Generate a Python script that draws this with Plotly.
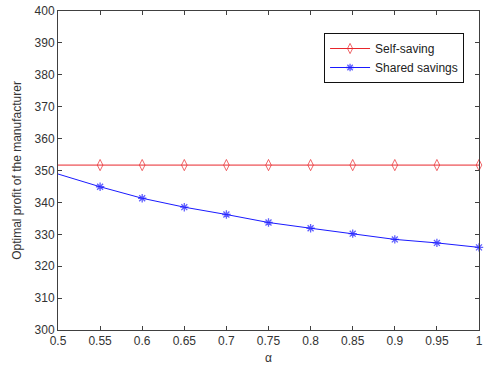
import plotly.graph_objects as go

alpha = [0.5, 0.55, 0.6, 0.65, 0.7, 0.75, 0.8, 0.85, 0.9, 0.95, 1.0]
self_saving = [351.7] * 11
shared_savings = [348.9, 344.9, 341.3, 338.5, 336.2, 333.7, 331.9, 330.2, 328.4, 327.3, 325.9]
x_ticks = [0.5, 0.55, 0.6, 0.65, 0.7, 0.75, 0.8, 0.85, 0.9, 0.95, 1.0]
x_labels = ["0.5", "0.55", "0.6", "0.65", "0.7", "0.75", "0.8", "0.85", "0.9", "0.95", "1"]
y_ticks = list(range(300, 401, 10))

msizes_red = [0] + [8] * 10
msizes_blue = [0] + [7] * 10

FONT = "Liberation Sans, Arial"

fig = go.Figure()
fig.add_trace(go.Scatter(
    x=alpha, y=self_saving, mode="lines+markers", name="Self-saving",
    line=dict(color="#e8262b", width=1),
    marker=dict(symbol="diamond-tall-open", size=msizes_red, color="#e8262b",
                line=dict(width=1, color="#e8262b")),
    cliponaxis=False,
))
fig.add_trace(go.Scatter(
    x=alpha, y=shared_savings, mode="lines+markers", name="Shared savings",
    line=dict(color="#1a1aff", width=1),
    marker=dict(symbol="asterisk-open", size=msizes_blue, color="#1a1aff",
                line=dict(width=1.3, color="#1a1aff")),
    cliponaxis=False,
))

axis_common = dict(
    showgrid=False, zeroline=False, showline=True, linecolor="#404040", linewidth=1,
    mirror="ticks", ticks="inside", ticklen=4, tickcolor="#404040",
    tickfont=dict(family=FONT, size=12, color="#333333"),
    ticklabeloverflow="allow",
)

fig.update_layout(
    width=484, height=367,
    margin=dict(l=58, r=1, t=11, b=37),
    paper_bgcolor="white", plot_bgcolor="white",
    showlegend=True,
    legend=dict(x=0.632, y=0.931, xanchor="left", yanchor="top",
                bordercolor="#111111", borderwidth=1, bgcolor="white",
                font=dict(family=FONT, size=12, color="#222222"),
                itemwidth=40, tracegroupgap=0),
    xaxis=dict(range=[0.5, 1.0], tickvals=x_ticks, ticktext=x_labels,
               title=dict(text="α", font=dict(family=FONT, size=12, color="#333333"),
                          standoff=6),
               **axis_common),
    yaxis=dict(range=[300, 400], tickvals=y_ticks,
               title=dict(text="Optimal profit of the manufacturer",
                          font=dict(family=FONT, size=12, color="#333333"),
                          standoff=10),
               **axis_common),
)

fig.write_html("out.html")
